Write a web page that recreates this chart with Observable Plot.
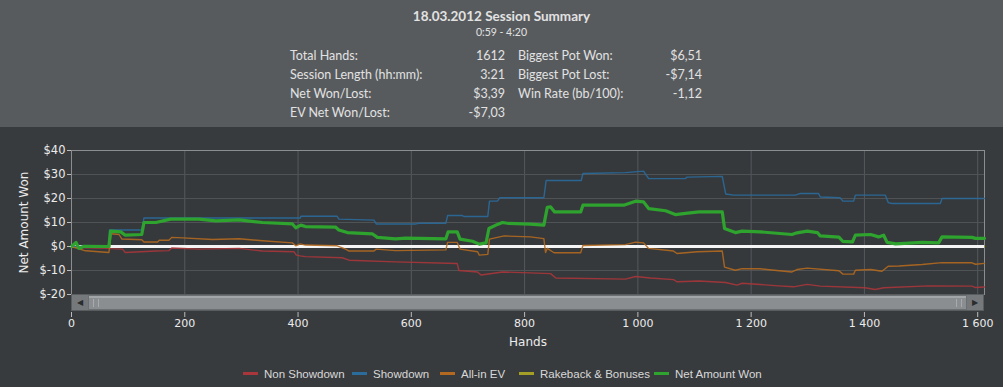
<!DOCTYPE html>
<html>
<head>
<meta charset="utf-8">
<script src="https://cdn.jsdelivr.net/npm/d3@7"></script>
<script src="https://cdn.jsdelivr.net/npm/@observablehq/plot@0.6"></script>
<style>
  html, body { margin: 0; padding: 0; }
  body { width: 1003px; height: 387px; background: #383b3e; position: relative; overflow: hidden; font-family: "DejaVu Sans", sans-serif; }
  #header { position: absolute; left: 0; top: 0; width: 1003px; height: 127px; background: #585b5e; color: #e2e2e2; font-family: Lato, "Open Sans", sans-serif; }
  #title { position: absolute; left: 0; width: 1003px; top: 8px; text-align: center; font-weight: bold; font-size: 13.5px; }
  #subtitle { position: absolute; left: 0; width: 1003px; top: 26px; text-align: center; font-size: 10.5px; }
  .cell { position: absolute; font-size: 12.5px; line-height: 15px; white-space: nowrap; }
  #chart { position: absolute; left: 0; top: 127px; }
  #scroll { position: absolute; left: 71px; top: 294px; width: 913px; height: 17px; background: #6c6f72; box-sizing: border-box; border: 1px solid #5a5d60; }
  #scroll .btn { position: absolute; top: 0; width: 16px; height: 15px; background: #76797c; color: #2a2c2e; font-size: 8px; line-height: 15px; text-align: center; }
  #scroll .thumb { position: absolute; top: 1px; left: 17px; right: 17px; height: 13px; background: #8b8e91; border-top: 2px solid #a3a6a9; box-sizing: border-box; }
  #scroll .grip { position: absolute; top: 1px; width: 6px; height: 8px; border-left: 1px solid #a8abae; border-right: 1px solid #a8abae; box-sizing: border-box; }
  #legend { position: absolute; top: 366px; left: 0; width: 1003px; height: 16px; font-family: "Liberation Sans", Arial, sans-serif; font-size: 11.5px; color: #d8d8d8; }
  .item { position: absolute; top: 0; line-height: 16px; white-space: nowrap; }
  .sw { display: inline-block; width: 15px; height: 3px; vertical-align: middle; margin-right: 6px; position: relative; top: -1px; }
</style>
</head>
<body>
<div id="header"></div>
<div id="chart"></div>
<div id="scroll">
  <div class="btn" style="left:0">&#9664;</div>
  <div class="thumb"><div class="grip" style="left:4px"></div><div class="grip" style="right:4px"></div></div>
  <div class="btn" style="right:0">&#9654;</div>
</div>
<div id="legend"></div>
<script>
// ---- Header text ----
const title = "18.03.2012 Session Summary";
const subtitle = "0:59 - 4:20";
const leftLabels = ["Total Hands:", "Session Length (hh:mm):", "Net Won/Lost:", "EV Net Won/Lost:"];
const leftValues = ["1612", "3:21", "$3,39", "-$7,03"];
const rightLabels = ["Biggest Pot Won:", "Biggest Pot Lost:", "Win Rate (bb/100):"];
const rightValues = ["$6,51", "-$7,14", "-1,12"];

// ---- Series: [hand, amount in $] ----
const nonShowdown = [[0,0],[25,-0.5],[66,-0.8],[70,-0.9],[90,-1.1],[95,-2.5],[149,-1.9],[172,-1.7],[177,-0.6],[225,-1.1],[296,-0.8],[337,-1.9],[393,-2.2],[397,-3.6],[404,-3.9],[413,-4.2],[478,-4.7],[490,-5.7],[572,-6.4],[681,-7.1],[684,-10.0],[717,-10.6],[723,-11.9],[761,-10.6],[810,-11.0],[846,-11.3],[855,-13.1],[978,-13.6],[996,-12.5],[1022,-13.1],[1063,-13.8],[1069,-14.7],[1108,-14.4],[1155,-15.0],[1175,-16.1],[1184,-15.3],[1248,-16.4],[1275,-16.8],[1299,-15.8],[1322,-16.5],[1401,-17.2],[1419,-17.9],[1434,-17.2],[1514,-16.4],[1590,-16.5],[1596,-17.1],[1612,-16.9]];
const showdown = [[0,0],[66,0],[67,6.9],[124,6.9],[128,11.9],[404,11.9],[405,12.6],[469,12.6],[472,11.4],[534,11.0],[538,9.4],[608,9.4],[614,9.7],[661,9.7],[664,12.9],[690,12.9],[693,12.5],[735,12.5],[738,18.9],[752,18.9],[756,20.3],[834,20.3],[838,27.5],[900,27.5],[903,30.4],[978,30.8],[1010,31.4],[1019,28.3],[1084,28.3],[1087,28.9],[1149,29.2],[1155,21.9],[1169,21.4],[1278,21.4],[1287,22.1],[1319,22.1],[1322,20.6],[1357,20.3],[1362,18.9],[1381,18.9],[1384,21.4],[1437,21.4],[1442,18.3],[1449,17.9],[1534,17.9],[1537,20.0],[1612,20.0]];
const allInEV = [[0,0],[13,-1.0],[25,-1.8],[66,-2.5],[70,5.3],[84,5.0],[89,3.1],[124,2.8],[128,1.9],[152,1.9],[155,2.6],[172,2.6],[177,3.8],[196,3.6],[249,2.9],[296,3.2],[337,2.4],[390,1.5],[396,0.3],[404,1.1],[413,0.6],[469,0.3],[484,-1.1],[490,-1.9],[534,-1.9],[538,-1.1],[572,-1.7],[661,-1.4],[664,1.7],[681,1.7],[686,-1.1],[717,-2.2],[720,-3.6],[735,-3.3],[738,3.1],[764,4.4],[810,4.0],[834,3.3],[837,-2.5],[840,-0.8],[852,-2.6],[899,-2.6],[903,0.4],[978,0.8],[996,1.8],[1010,1.5],[1019,-0.8],[1063,-1.9],[1069,-2.9],[1105,-2.2],[1149,-1.9],[1153,-8.6],[1172,-9.9],[1184,-9.2],[1216,-9.3],[1272,-10.6],[1281,-9.6],[1299,-9.0],[1355,-10.1],[1362,-11.5],[1381,-11.5],[1384,-9.9],[1411,-9.6],[1431,-10.3],[1442,-8.2],[1461,-8.1],[1502,-7.5],[1537,-6.7],[1590,-6.8],[1596,-7.4],[1612,-7.03]];
const rakeback = [[0,0],[1612,0]];
const netAmountWon = [[0,0],[8,1.7],[13,-0.8],[22,0.1],[66,0],[69,6.4],[87,6.1],[95,4.7],[124,5.0],[128,10.0],[149,10.0],[175,11.4],[225,11.4],[255,10.7],[296,11.1],[337,10.0],[390,9.4],[396,7.8],[405,8.9],[413,8.3],[466,8.1],[472,6.9],[487,5.8],[531,5.3],[540,3.8],[572,3.2],[590,3.5],[661,3.2],[665,6.1],[681,6.1],[686,3.1],[708,2.2],[720,1.0],[732,1.5],[737,7.5],[752,9.2],[761,10.0],[772,9.6],[810,9.3],[834,8.9],[840,16.3],[846,16.5],[853,14.4],[899,14.4],[903,17.2],[928,17.2],[975,17.2],[996,18.9],[1010,18.6],[1019,15.8],[1049,14.9],[1066,13.3],[1084,13.8],[1108,14.4],[1149,14.4],[1153,7.5],[1172,5.8],[1184,6.4],[1216,6.1],[1272,5.0],[1281,5.7],[1299,6.4],[1317,5.8],[1322,4.4],[1355,3.9],[1362,2.1],[1379,1.9],[1384,4.7],[1411,5.0],[1425,4.0],[1434,4.7],[1440,1.7],[1455,1.1],[1502,1.7],[1531,1.5],[1537,4.0],[1590,3.8],[1596,3.4],[1612,3.39]];

// ---- Axes ----
const totalHands = 1612;
const xTicks = [0, 200, 400, 600, 800, 1000, 1200, 1400, 1600];
const yTicks = [-20, -10, 0, 10, 20, 30, 40];
const xLabel = "Hands";
const yLabel = "Net Amount Won";

// ---- Legend ----
const seriesNames = ["Non Showdown", "Showdown", "All-in EV", "Rakeback & Bonuses", "Net Amount Won"];
const seriesColors = ["#a8363a", "#2a6c9c", "#b3691f", "#a39e25", "#2ea32e"];
const seriesData = [nonShowdown, showdown, allInEV, rakeback, netAmountWon];

// header
const header = document.getElementById("header");
header.innerHTML = `<div id="title">${title}</div><div id="subtitle">${subtitle}</div>`;
const rowTops = [48, 67, 86, 105];
leftLabels.forEach((t, i) => {
  header.insertAdjacentHTML("beforeend", `<div class="cell" style="left:290px;top:${rowTops[i]}px">${t}</div>`);
  header.insertAdjacentHTML("beforeend", `<div class="cell" style="right:${1003-505}px;top:${rowTops[i]}px;text-align:right">${leftValues[i]}</div>`);
});
rightLabels.forEach((t, i) => {
  header.insertAdjacentHTML("beforeend", `<div class="cell" style="left:518px;top:${rowTops[i]}px">${t}</div>`);
  header.insertAdjacentHTML("beforeend", `<div class="cell" style="right:${1003-702}px;top:${rowTops[i]}px;text-align:right">${rightValues[i]}</div>`);
});

const locale = d3.formatLocale({decimal: ",", thousands: "\u00a0", grouping: [3], currency: ["$", ""]});
const fmtX = locale.format(",d");

const lineOf = (i) => Plot.line(seriesData[i], {
  x: d => d[0], y: d => d[1],
  stroke: seriesColors[i],
  strokeWidth: i === 4 ? 3.2 : 1.4,
  strokeOpacity: i === 4 ? 1 : 0.9
});

const chart = Plot.plot({
  width: 1003,
  height: 230,
  marginTop: 23,
  marginBottom: 63,
  marginLeft: 71,
  marginRight: 19,
  style: {background: "transparent", color: "#ececec", fontFamily: "DejaVu Sans, sans-serif", fontSize: "11px"},
  x: {domain: [0, totalHands]},
  y: {domain: [-20, 40]},
  marks: [
    Plot.frame({fill: "#36393c"}),
    Plot.gridX(xTicks, {stroke: "#56595c", strokeOpacity: 1}),
    Plot.gridY(yTicks, {stroke: "#505356", strokeOpacity: 1}),
    Plot.frame({stroke: "#8c8d8e"}),
    lineOf(3),
    Plot.ruleY([0], {stroke: "#f4f4f4", strokeWidth: 3}),
    lineOf(0), lineOf(1), lineOf(2), lineOf(4),
    Plot.axisX(xTicks, {tickFormat: fmtX, tickSize: 5, tickPadding: 2, stroke: "#bbbbbb", label: xLabel, labelAnchor: "center", labelArrow: "none", labelOffset: 51}),
    Plot.axisY(yTicks, {tickFormat: d => "$" + d, tickSize: 4, tickPadding: 2, stroke: "#bbbbbb", label: yLabel, labelAnchor: "center", labelArrow: "none", labelOffset: 52, fontSize: 11.5})
  ]
});
document.getElementById("chart").appendChild(chart);

// shift x-axis below the scrollbar
d3.select(chart).selectAll('g[aria-label="x-axis tick"], g[aria-label="x-axis tick label"]').each(function() {
  const old = this.getAttribute("transform") || "";
  this.setAttribute("transform", "translate(0,18) " + old);
});
d3.select(chart).selectAll('g[aria-label="x-axis label"], g[aria-label="y-axis label"]').style("font-size", "12px");

// legend
const legend = document.getElementById("legend");
const legendLeft = [243, 352, 440, 519, 654];
seriesNames.forEach((n, i) => {
  legend.insertAdjacentHTML("beforeend", `<div class="item" style="left:${legendLeft[i]}px"><span class="sw" style="background:${seriesColors[i]}"></span>${n}</div>`);
});
</script>
</body>
</html>
